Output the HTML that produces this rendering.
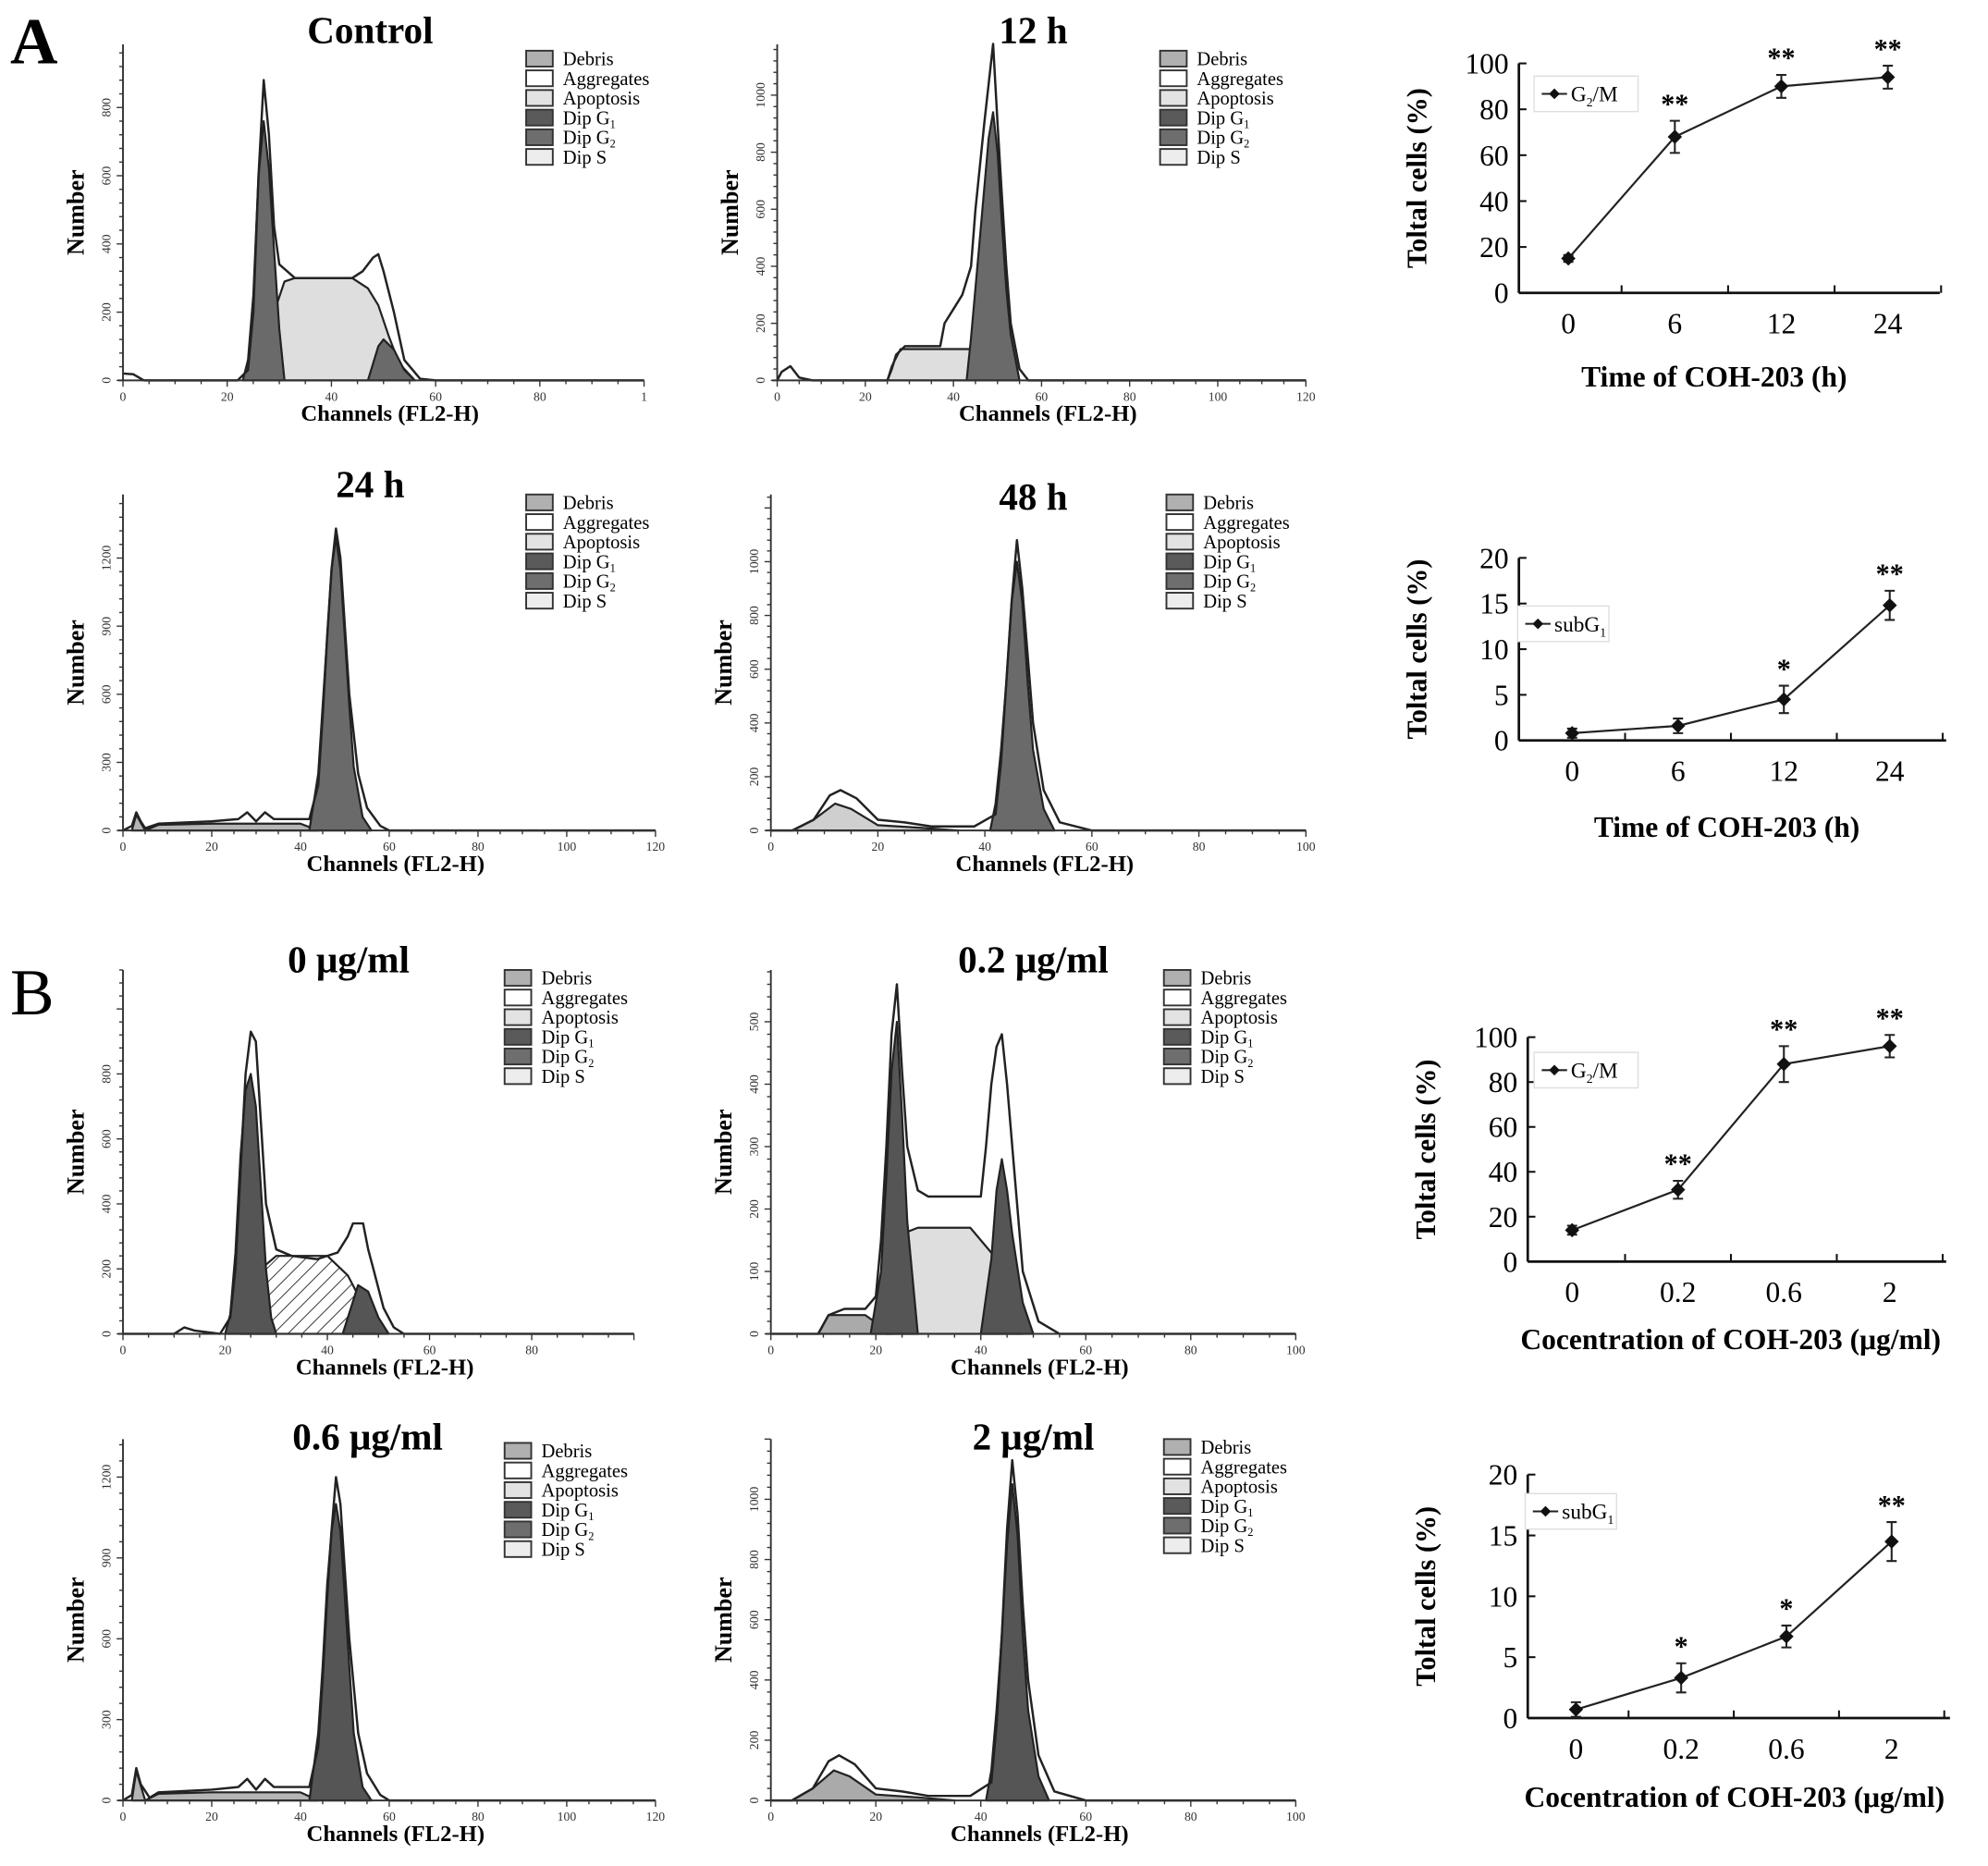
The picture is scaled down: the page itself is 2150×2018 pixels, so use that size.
<!DOCTYPE html>
<html><head><meta charset="utf-8"><style>
html,body{margin:0;padding:0;background:#fff;}
svg{display:block;font-family:"Liberation Serif",serif;}
</style></head><body>
<svg id="fig" width="2150" height="2018" viewBox="0 0 1568 1471.7" preserveAspectRatio="none" xmlns="http://www.w3.org/2000/svg">
<defs>
<pattern id="hatch" patternUnits="userSpaceOnUse" width="8" height="8" patternTransform="rotate(45)">
<rect width="8" height="8" fill="#fff"/><line x1="0" y1="0" x2="0" y2="8" stroke="#333" stroke-width="1.4"/>
</pattern>
</defs>
<text x="8" y="50" font-size="52" font-weight="bold">A</text>
<text x="8" y="800" font-size="52">B</text>
<g id="hists"></g>
<g id="lines"></g>
</svg>
<script>
// ===== Histogram data (channel, count pairs) =====
const ctrlOutline=[[0,20],[2,18],[4,0],[22,0],[24,30],[25,200],[26,600],[27,880],[28,720],[29,450],[30,340],[33,300],[36,300],[44,300],[46,320],[48,360],[49,370],[50,320],[52,200],[54,60],[57,5],[60,0],[100,0]];
const ctrlG1=[[23,0],[24,60],[25,250],[26,600],[27,760],[28,620],[29,380],[30,150],[31,0]];
const ctrlS=[[27,0],[29,200],[31,290],[33,300],[44,300],[47,270],[49,220],[51,130],[53,50],[56,0]];
const ctrlG2=[[47,0],[49,100],[50,120],[52,90],[54,30],[56,0]];
const h12Outline=[[0,0],[1,30],[3,50],[5,10],[8,0],[25,0],[26,40],[27,90],[29,120],[37,120],[38,200],[40,250],[42,300],[44,400],[45,600],[47,900],[49,1180],[50,900],[51,650],[52,400],[53,200],[55,40],[57,0],[120,0]];
const h12G2=[[43,0],[44,150],[46,500],[48,850],[49,940],[50,800],[51,550],[52,320],[53,160],[55,0]];
const h12S=[[25,0],[26,50],[28,110],[44,110],[46,70],[48,20],[49,0]];
const h24Outline=[[0,0],[2,20],[3,80],[4,40],[5,10],[8,30],[20,40],[26,50],[28,80],[30,40],[32,80],[34,50],[42,50],[44,200],[45,500],[46,850],[47,1150],[48,1330],[49,1200],[50,900],[51,600],[53,250],[55,100],[58,20],[60,0],[120,0]];
const h24G2=[[42,0],[44,250],[45,550],[46,850],[47,1150],[48,1290],[49,1150],[50,850],[51,550],[52,280],[54,60],[56,0]];
const h24Deb=[[2,0],[3,70],[5,0],[8,25],[20,30],[40,30],[44,0]];
const h48Outline=[[0,0],[4,0],[8,40],[11,130],[13,150],[16,120],[20,40],[25,30],[30,15],[38,15],[42,60],[43,250],[44,550],[45,850],[46,1080],[47,900],[48,650],[49,400],[51,150],[54,30],[60,0],[100,0]];
const h48Deb=[[4,0],[8,40],[12,100],[15,80],[20,20],[28,10],[35,0]];
const h48G2=[[41,0],[42,100],[43,300],[44,550],[45,850],[46,1000],[47,850],[48,550],[49,300],[51,80],[53,0]];
const b0Outline=[[0,0],[10,0],[12,20],[14,10],[19,0],[21,50],[22,200],[23,500],[24,800],[25,930],[26,900],[27,650],[28,400],[30,260],[33,240],[38,230],[42,250],[44,300],[45,340],[47,340],[48,260],[49,200],[51,80],[53,20],[55,0],[100,0]];
const b0G1=[[20,0],[21,60],[22,250],[23,550],[24,750],[25,800],[26,700],[27,450],[28,200],[29,50],[30,0]];
const b0S=[[23,0],[25,120],[27,200],[30,240],[40,240],[44,180],[48,60],[50,0]];
const b0G2=[[43,0],[45,100],[46,150],[48,130],[50,50],[52,0]];
const b02Outline=[[0,0],[9,0],[11,30],[14,40],[18,40],[20,60],[21,150],[22,300],[23,480],[24,560],[25,420],[26,300],[28,230],[30,220],[32,220],[40,220],[41,300],[42,400],[43,460],[44,480],[45,400],[46,300],[48,100],[51,20],[55,0],[100,0]];
const b02G1=[[19,0],[21,100],[22,250],[23,420],[24,500],[25,350],[26,180],[28,0]];
const b02S=[[22,0],[25,160],[28,170],[38,170],[42,130],[46,40],[48,0]];
const b02G2=[[40,0],[42,120],[43,230],[44,280],[45,230],[46,160],[48,50],[50,0]];
const b02Deb=[[9,0],[11,30],[18,30],[23,0]];
const b06Outline=[[0,0],[2,20],[3,120],[4,60],[6,10],[8,30],[20,40],[26,50],[28,80],[30,40],[32,80],[34,50],[42,50],[44,200],[45,450],[46,750],[47,1000],[48,1200],[49,1100],[50,850],[51,600],[53,250],[55,100],[58,20],[60,0],[120,0]];
const b06G2=[[42,0],[44,250],[45,500],[46,800],[47,1000],[48,1100],[49,1000],[50,750],[51,500],[52,250],[54,50],[56,0]];
const b06Deb=[[2,0],[3,110],[5,0],[8,25],[20,30],[40,30],[44,0]];
const b2Outline=[[0,0],[4,0],[8,40],[11,130],[13,150],[16,120],[20,40],[25,30],[30,15],[38,15],[42,60],[43,250],[44,550],[45,900],[46,1130],[47,950],[48,650],[49,400],[51,150],[54,30],[60,0],[100,0]];
const b2Deb=[[4,0],[8,40],[12,100],[15,80],[20,20],[28,10],[35,0]];
const b2G2=[[41,0],[42,100],[43,300],[44,550],[45,850],[46,1050],[47,880],[48,550],[49,300],[51,80],[53,0]];

const legendLabels=["Debris","Aggregates","Apoptosis","Dip G","Dip G","Dip S"];
const legendSubs=["","","","1","2",""];

const NS="http://www.w3.org/2000/svg";
function mk(tag,attrs,parent,text){const e=document.createElementNS(NS,tag);for(const k in attrs)e.setAttribute(k,attrs[k]);if(text!==undefined)e.textContent=text;parent.appendChild(e);return e;}

const panels=[
 {id:"control",title:"Control",tx:292,ty:34,x0:97,y0:300,x1:508,top:35,xmax:100,ymax:985,xt:[0,20,40,60,80],xlast:"1",yt:[0,200,400,600,800],lx:415,ly:40,outline:ctrlOutline,fills:[[ctrlS,"#dedede"],[ctrlG1,"#6a6a6a"],[ctrlG2,"#6a6a6a"]]},
 {id:"12h",title:"12 h",tx:815,ty:34,x0:613,y0:300,x1:1030,top:35,xmax:120,ymax:1178,xt:[0,20,40,60,80,100],xlast:"120",yt:[0,200,400,600,800,1000],lx:915,ly:40,outline:h12Outline,fills:[[h12S,"#dedede"],[h12G2,"#6a6a6a"]]},
 {id:"24h",title:"24 h",tx:292,ty:392,x0:97,y0:655,x1:517,top:390,xmax:120,ymax:1480,xt:[0,20,40,60,80,100],xlast:"120",yt:[0,300,600,900,1200],lx:415,ly:390,outline:h24Outline,fills:[[h24Deb,"#b5b5b5"],[h24G2,"#6a6a6a"]]},
 {id:"48h",title:"48 h",tx:815,ty:402,x0:608,y0:655,x1:1030,top:390,xmax:100,ymax:1250,xt:[0,20,40,60,80],xlast:"100",yt:[0,200,400,600,800,1000],lx:920,ly:390,outline:h48Outline,fills:[[h48Deb,"#cfcfcf"],[h48G2,"#6a6a6a"]]},
 {id:"0ug",title:"0 μg/ml",tx:275,ty:767,x0:97,y0:1052,x1:500,top:765,xmax:100,ymax:1120,xt:[0,20,40,60,80],xlast:"",yt:[0,200,400,600,800],lx:398,ly:765,outline:b0Outline,fills:[[b0S,"url(#hatch)"],[b0G1,"#555"],[b0G2,"#555"]]},
 {id:"02ug",title:"0.2 μg/ml",tx:815,ty:767,x0:608,y0:1052,x1:1022,top:765,xmax:100,ymax:583,xt:[0,20,40,60,80],xlast:"100",yt:[0,100,200,300,400,500],lx:918,ly:765,outline:b02Outline,fills:[[b02Deb,"#aaa"],[b02S,"#dedede"],[b02G1,"#555"],[b02G2,"#555"]]},
 {id:"06ug",title:"0.6 μg/ml",tx:290,ty:1143,x0:97,y0:1420,x1:517,top:1135,xmax:120,ymax:1341,xt:[0,20,40,60,80,100],xlast:"120",yt:[0,300,600,900,1200],lx:398,ly:1138,outline:b06Outline,fills:[[b06Deb,"#b5b5b5"],[b06G2,"#555"]]},
 {id:"2ug",title:"2 μg/ml",tx:815,ty:1143,x0:608,y0:1420,x1:1022,top:1135,xmax:100,ymax:1200,xt:[0,20,40,60,80],xlast:"100",yt:[0,200,400,600,800,1000],lx:918,ly:1135,outline:b2Outline,fills:[[b2Deb,"#aaa"],[b2G2,"#555"]]}
];
const legendFills=["#b0b0b0","#fff","#e2e2e2","#5a5a5a","#6e6e6e","#ededed"];

const hg=document.getElementById("hists");
panels.forEach(p=>{
 const g=mk("g",{},hg);
 
 
 const sx=v=>p.x0+(v/p.xmax)*(p.x1-p.x0);
 const sy=v=>p.y0-(v/p.ymax)*(p.y0-p.top);
 const pts=a=>a.map(d=>sx(d[0]).toFixed(1)+","+sy(d[1]).toFixed(1)).join(" ");
 p.fills.forEach(f=>{const e=mk("polygon",{points:pts(f[0]),fill:f[1],stroke:"#222","stroke-width":1.6,"stroke-linejoin":"round"},g);
  
  });
 const o=mk("polyline",{points:pts(p.outline),fill:"none",stroke:"#222","stroke-width":1.8,"stroke-linejoin":"round"},g);
 
 
 mk("line",{x1:p.x0,y1:p.top,x2:p.x0,y2:p.y0,stroke:"#333","stroke-width":1.4},g);
 mk("line",{x1:p.x0-4,y1:p.y0,x2:p.x1,y2:p.y0,stroke:"#333","stroke-width":1.4},g);
 for(let v=0;v<=p.xmax;v+=5){const x=sx(v);mk("line",{x1:x,y1:p.y0,x2:x,y2:p.y0+(v%20==0?5:3),stroke:"#333"},g);}
 const yStep=p.yt[1]-p.yt[0];
 for(let v=0;v<=p.ymax;v+=yStep/5){const y=sy(v);mk("line",{x1:p.x0-(v%yStep==0?5:3),y1:y,x2:p.x0,y2:y,stroke:"#333"},g);}
 p.xt.forEach(v=>mk("text",{x:sx(v),y:p.y0+16,"font-size":10,"text-anchor":"middle",fill:"#333"},g,String(v)));
 if(p.xlast)mk("text",{x:p.x1,y:p.y0+16,"font-size":10,"text-anchor":"middle",fill:"#333"},g,p.xlast);
 p.yt.forEach(v=>{const y=sy(v);mk("text",{x:p.x0-10,y:y,"font-size":10,"text-anchor":"middle",fill:"#333",transform:`rotate(-90 ${p.x0-10} ${y})`},g,String(v));});
 const t=mk("text",{x:p.tx,y:p.ty,"font-size":30,"font-weight":"bold","text-anchor":"middle"},g,p.title);
 
 
 const xl=mk("text",{x:(p.x0+p.x1)/2+5,y:p.y0+32,"font-size":18,"font-weight":"bold","text-anchor":"middle"},g,"Channels (FL2-H)");
 
 
 const ny=(p.top+p.y0)/2;
 const yl=mk("text",{x:p.x0-31,y:ny,"font-size":19,"font-weight":"bold","text-anchor":"middle",transform:`rotate(-90 ${p.x0-31} ${ny})`},g,"Number");
 
 
 legendLabels.forEach((lab,i)=>{
  const y=p.ly+i*15.5;
  const r=mk("rect",{x:p.lx,y:y,width:21,height:12.5,fill:legendFills[i],stroke:"#333","stroke-width":1.4},g);
  
  
  const tt=mk("text",{x:p.lx+29,y:y+11.5,"font-size":15},g,lab);
  
  
  if(legendSubs[i]){mk("tspan",{"font-size":9,dy:3},tt,legendSubs[i]);}
 });
});

// ===== Line charts data =====
const timeCats=["0","6","12","24"];
const concCats=["0","0.2","0.6","2"];
const g2mTime=[15,68,90,94];
const g2mTimeErr=[1.5,7,5,5];
const subG1Time=[0.8,1.6,4.5,14.8];
const subG1TimeErr=[0.5,0.8,1.5,1.6];
const g2mConc=[14,32,88,96];
const g2mConcErr=[2,4,8,5];
const subG1Conc=[0.7,3.3,6.7,14.5];
const subG1ConcErr=[0.6,1.2,0.9,1.6];
const starsTime1=["","**","**","**"];
const starsTime2=["","","*","**"];
const starsConc1=["","**","**","**"];
const starsConc2=["","*","*","**"];

const charts=[
 {id:"g2m-time",cats:timeCats,vals:g2mTime,err:g2mTimeErr,stars:starsTime1,ymax:100,ystep:20,ax:1198,y0:231,ytop:50,x0:1237,dx:84,xr:1530,xtitle:"Time of COH-203 (h)",xtx:1352,xty:305,leg:"G",legsub:"2",legtail:"/M",lgx:1210,lgy:60,lgw:82},
 {id:"subg1-time",cats:timeCats,vals:subG1Time,err:subG1TimeErr,stars:starsTime2,ymax:20,ystep:5,ax:1198,y0:584,ytop:440,x0:1240,dx:83.5,xr:1535,xtitle:"Time of COH-203 (h)",xtx:1362,xty:660,leg:"subG",legsub:"1",legtail:"",lgx:1197,lgy:478,lgw:72},
 {id:"g2m-conc",cats:concCats,vals:g2mConc,err:g2mConcErr,stars:starsConc1,ymax:100,ystep:20,ax:1205,y0:995,ytop:818,x0:1240,dx:83.5,xr:1535,xtitle:"Cocentration of COH-203 (μg/ml)",xtx:1365,xty:1064,leg:"G",legsub:"2",legtail:"/M",lgx:1210,lgy:830,lgw:82},
 {id:"subg1-conc",cats:concCats,vals:subG1Conc,err:subG1ConcErr,stars:starsConc2,ymax:20,ystep:5,ax:1205,y0:1355,ytop:1163,x0:1243,dx:83,xr:1538,xtitle:"Cocentration of COH-203 (μg/ml)",xtx:1368,xty:1425,leg:"subG",legsub:"1",legtail:"",lgx:1203,lgy:1178,lgw:72}
];
const lg=document.getElementById("lines");
charts.forEach(c=>{
 const g=mk("g",{},lg);
 
 
 const sy=v=>c.y0-(v/c.ymax)*(c.y0-c.ytop);
 const sx=i=>c.x0+i*c.dx;
 mk("line",{x1:c.ax,y1:c.ytop,x2:c.ax,y2:c.y0,stroke:"#111","stroke-width":2},g);
 mk("line",{x1:c.ax,y1:c.y0,x2:c.xr,y2:c.y0,stroke:"#111","stroke-width":2},g);
 for(let v=0;v<=c.ymax;v+=c.ystep){const y=sy(v);
  mk("line",{x1:c.ax,y1:y,x2:c.ax+6,y2:y,stroke:"#111","stroke-width":1.5},g);
  const t=mk("text",{x:c.ax-8,y:y+8,"font-size":23,"text-anchor":"end"},g,String(v));
  
  }
 for(let i=1;i<=c.cats.length;i++){const x=c.x0+(i-0.5)*c.dx;
  mk("line",{x1:x,y1:c.y0,x2:x,y2:c.y0-6,stroke:"#111","stroke-width":1.5},g);}
 c.cats.forEach((cat,i)=>{const t=mk("text",{x:sx(i),y:c.y0+32,"font-size":23,"text-anchor":"middle"},g,cat);
  
  });
 const yt=(c.ytop+c.y0)/2;
 const ya=mk("text",{x:c.ax-73,y:yt,"font-size":22,"font-weight":"bold","text-anchor":"middle",transform:`rotate(-90 ${c.ax-73} ${yt})`},g,"Toltal cells (%)");
 
 
 const xa=mk("text",{x:c.xtx,y:c.xty,"font-size":23,"font-weight":"bold","text-anchor":"middle"},g,c.xtitle);
 
 
 const line=mk("polyline",{points:c.vals.map((v,i)=>sx(i)+","+sy(v)).join(" "),fill:"none",stroke:"#222","stroke-width":1.6},g);
 
 
 c.vals.forEach((v,i)=>{
  const x=sx(i),y=sy(v),e=c.err[i];
  const eb=mk("path",{d:`M${x},${sy(v+e)}V${sy(v-e)}M${x-4},${sy(v+e)}h8M${x-4},${sy(v-e)}h8`,stroke:"#222","stroke-width":1.5,fill:"none"},g);
  
  
  const pt=mk("rect",{x:x-4,y:y-4,width:8,height:8,fill:"#111",transform:`rotate(45 ${x} ${y})`},g);
  
  
  if(c.stars[i]){const s=mk("text",{x:x,y:sy(v+e)-6,"font-size":22,"text-anchor":"middle","font-weight":"bold"},g,c.stars[i]);
   
   }
 });
 const lb=mk("rect",{x:c.lgx,y:c.lgy,width:c.lgw,height:28,fill:"#fff",stroke:"#ddd"},g);
 
 
 mk("line",{x1:c.lgx+6,y1:c.lgy+14,x2:c.lgx+26,y2:c.lgy+14,stroke:"#222","stroke-width":1.5},g);
 mk("rect",{x:c.lgx+13,y:c.lgy+11,width:6,height:6,fill:"#111",transform:`rotate(45 ${c.lgx+16} ${c.lgy+14})`},g);
 const lt=mk("text",{x:c.lgx+29,y:c.lgy+20,"font-size":17},g,c.leg);
 
 
 mk("tspan",{"font-size":10,dy:4},lt,c.legsub);
 if(c.legtail)mk("tspan",{dy:-4},lt,c.legtail);
});
</script>
</body></html>
